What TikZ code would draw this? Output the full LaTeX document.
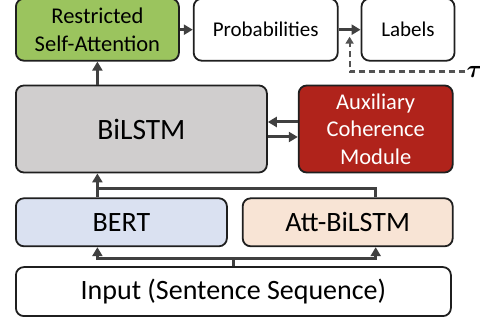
\documentclass[tikz,border=0pt]{standalone}
\usepackage{fontspec}
\setmainfont{Carlito}
\usepackage{bm}
\usepackage{xcolor}
\usepackage{tikz}
\usetikzlibrary{arrows.meta, positioning, calc}
\definecolor{attngreen}{HTML}{9BC45E}
\definecolor{bertblue}{HTML}{DAE1F1}
\definecolor{attpeach}{HTML}{F8E4D5}
\definecolor{lstmgray}{HTML}{D0CECE}
\definecolor{auxred}{HTML}{B0231B}
\definecolor{wiregray}{HTML}{404040}

\begin{document}
\begin{tikzpicture}[
    x=1pt, y=1pt,
    box/.style={draw=black!88, line width=1.8pt, rounded corners=8pt,
                text centered, align=center, inner sep=2pt,
                font=\fontsize{28}{33}\selectfont},
    smallbox/.style={box, font=\fontsize{21}{27}\selectfont},
    stackbox/.style={box, font=\fontsize{22.5}{27.5}\selectfont},
    taulabel/.style={anchor=west, inner sep=1pt, font=\fontsize{25}{30}\selectfont},
    arr/.style={-{Triangle[length=9pt, width=10pt]}, line width=3pt, wiregray},
    wire/.style={line width=3pt, wiregray},
    dasharr/.style={-{Triangle[length=7pt, width=8pt]}, line width=2.2pt,
                    wiregray!90, dash pattern=on 6pt off 4pt},
  ]
  \useasboundingbox (0,0) rectangle (480,320);

  % Input
  \node[box, anchor=south west, minimum width=435pt, minimum height=49pt] (input)
    at (15,3) {Input (Sentence Sequence)};

  % Encoders
  \node[box, fill=bertblue, minimum width=211pt, minimum height=48pt,
        above right=19pt and 0pt of input.north west] (bert) {BERT};
  \node[box, fill=attpeach, minimum width=210pt, minimum height=48pt,
        right=14pt of bert] (attlstm) {Att-BiLSTM};

  % BiLSTM + auxiliary module
  \node[box, fill=lstmgray, minimum width=251pt, minimum height=87pt,
        font=\fontsize{29.5}{34}\selectfont,
        above right=24pt and 0pt of bert.north west] (bilstm) {BiLSTM};
  \node[stackbox, fill=auxred, text=white, minimum width=154pt, minimum height=87pt,
        right=30pt of bilstm] (aux) {Auxiliary\\Coherence\\Module};

  % Output row
  \node[stackbox, fill=attngreen, minimum width=163pt, minimum height=62pt,
        above right=23pt and 0pt of bilstm.north west] (rsa) {Restricted\\Self-Attention};
  \node[smallbox, minimum width=144pt, minimum height=62pt,
        right=13pt of rsa] (prob) {Probabilities};
  \node[smallbox, minimum width=93pt, minimum height=62pt,
        right=22pt of prob] (labels) {Labels};

  % Threshold
  \coordinate (taupos) at ($(labels.south east)+(10pt,-10pt)$);
  \node[taulabel] (tau) at (taupos) {$\bm{\tau}$};
  \coordinate (tick) at ($(prob.east)!0.5!(labels.west)+(0,-7pt)$);

  % Arrows
  \draw[wire] (input.north) -- ++(0,8pt) coordinate (split);
  \draw[arr] (split) -| (bert.south -| rsa.south);
  \draw[arr] (split) -| (attlstm.south -| aux.south);
  \draw[wire] (attlstm.north -| aux.south) |- ($(bert.north -| rsa.south)+(0,9pt)$);
  \draw[arr] (bert.north -| rsa.south) -- (bilstm.south -| rsa.south);
  \draw[arr] ([yshift=7pt]aux.west) -- ([yshift=7pt]bilstm.east);
  \draw[arr] ([yshift=-8pt]bilstm.east) -- ([yshift=-8pt]aux.west);
  \draw[arr] (rsa.south |- bilstm.north) -- (rsa.south);
  \draw[arr] (rsa) -- (prob);
  \draw[arr] (prob) -- (labels);
  \draw[dasharr] (tau.west) -| (tick);

\end{tikzpicture}
\end{document}
